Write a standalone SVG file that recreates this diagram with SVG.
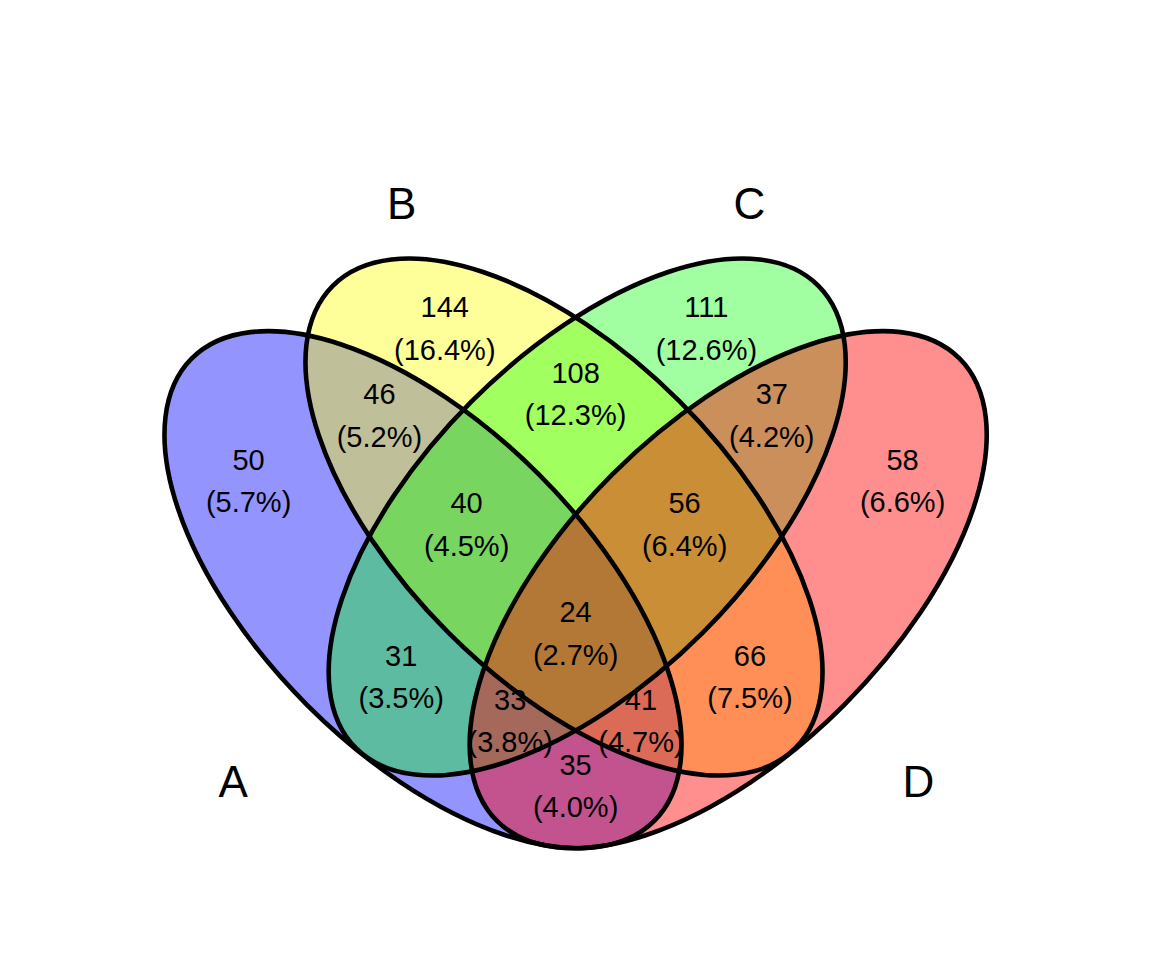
<svg xmlns="http://www.w3.org/2000/svg" width="1152" height="960" viewBox="0 0 1152 960">
  <style>
    .fill { stroke: none; }
    .outline { fill: none; stroke: #000000; stroke-width: 4.6; }
    .num { font-family: "Liberation Sans", Arial, sans-serif; font-size: 29px; fill: #000000; text-anchor: middle; }
    .set { font-family: "Liberation Sans", Arial, sans-serif; font-size: 44px; fill: #000000; text-anchor: middle; }
  </style>
  <defs>
    <ellipse id="eA" cx="423.0" cy="589.7" rx="163.5" ry="327" transform="rotate(-45 423.0 589.7)"/>
    <ellipse id="eB" cx="564.0" cy="517.0" rx="163.5" ry="327" transform="rotate(-45 564.0 517.0)"/>
    <ellipse id="eC" cx="587.2" cy="517.0" rx="163.5" ry="327" transform="rotate(45 587.2 517.0)"/>
    <ellipse id="eD" cx="728.2" cy="589.7" rx="163.5" ry="327" transform="rotate(45 728.2 589.7)"/>
  </defs>
  <rect x="0" y="0" width="1152" height="960" fill="#ffffff"/>
  <g id="setA"><use href="#eA" class="fill" fill="#0000ff" fill-opacity="0.42"/></g>
  <g id="setB"><use href="#eB" class="fill" fill="#ffff00" fill-opacity="0.4"/></g>
  <g id="setC"><use href="#eC" class="fill" fill="#00ff00" fill-opacity="0.37"/></g>
  <g id="setD"><use href="#eD" class="fill" fill="#ff0000" fill-opacity="0.44"/></g>
  <g id="outlines">
    <use href="#eA" class="outline"/>
    <use href="#eB" class="outline"/>
    <use href="#eC" class="outline"/>
    <use href="#eD" class="outline"/>
  </g>
  <g id="setnames">
    <text class="set" x="233.3" y="796.7">A</text>
    <text class="set" x="401.7" y="218.5">B</text>
    <text class="set" x="749.5" y="218.5">C</text>
    <text class="set" x="918.5" y="796.7">D</text>
  </g>
  <g id="counts">
    <text class="num" x="248.6" y="469.7">50</text><text class="num" x="248.6" y="512.2">(5.7%)</text>
    <text class="num" x="444.8" y="317.0">144</text><text class="num" x="444.8" y="359.5">(16.4%)</text>
    <text class="num" x="706.4" y="317.0">111</text><text class="num" x="706.4" y="359.5">(12.6%)</text>
    <text class="num" x="902.6" y="469.7">58</text><text class="num" x="902.6" y="512.2">(6.6%)</text>
    <text class="num" x="379.4" y="404.3">46</text><text class="num" x="379.4" y="446.8">(5.2%)</text>
    <text class="num" x="575.6" y="382.5">108</text><text class="num" x="575.6" y="425.0">(12.3%)</text>
    <text class="num" x="771.8" y="404.3">37</text><text class="num" x="771.8" y="446.8">(4.2%)</text>
    <text class="num" x="401.2" y="665.9">31</text><text class="num" x="401.2" y="708.4">(3.5%)</text>
    <text class="num" x="750.0" y="665.9">66</text><text class="num" x="750.0" y="708.4">(7.5%)</text>
    <text class="num" x="575.6" y="774.9">35</text><text class="num" x="575.6" y="817.4">(4.0%)</text>
    <text class="num" x="466.6" y="513.3">40</text><text class="num" x="466.6" y="555.8">(4.5%)</text>
    <text class="num" x="684.6" y="513.3">56</text><text class="num" x="684.6" y="555.8">(6.4%)</text>
    <text class="num" x="510.2" y="709.5">33</text><text class="num" x="510.2" y="752.0">(3.8%)</text>
    <text class="num" x="641.0" y="709.5">41</text><text class="num" x="641.0" y="752.0">(4.7%)</text>
    <text class="num" x="575.6" y="622.3">24</text><text class="num" x="575.6" y="664.8">(2.7%)</text>
  </g>
</svg>
